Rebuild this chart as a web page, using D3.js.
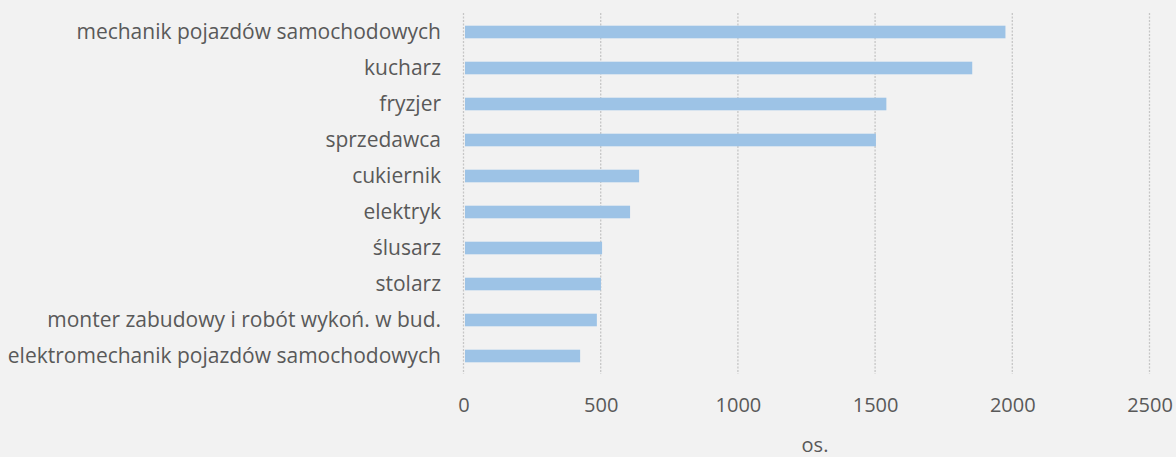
<!DOCTYPE html>
<html><head><meta charset="utf-8">
<script src="https://cdn.jsdelivr.net/npm/d3@7"></script>
<style>
html,body{margin:0;padding:0;background:#f2f2f2;}
svg{display:block;}
</style></head>
<body>
<script>
const categories = ["mechanik pojazdów samochodowych","kucharz","fryzjer","sprzedawca","cukiernik","elektryk","ślusarz","stolarz","monter zabudowy i robót wykoń. w bud.","elektromechanik pojazdów samochodowych"];
const values = [1975, 1854, 1541, 1503, 640, 607, 505, 501, 486, 425];
const ticks = [0, 500, 1000, 1500, 2000, 2500];
const axisTitle = "os.";

const W = 1176, H = 457;
const svg = d3.select("body").append("svg").attr("width", W).attr("height", H);
svg.append("rect").attr("width", W).attr("height", H).attr("fill", "#f2f2f2");

const x = d3.scaleLinear().domain([0, 2500]).range([463.5, 1149.5]);
const y = d3.scaleBand().domain(categories).range([14, 374]).paddingInner(0.65).paddingOuter(0.325);

const font = "'Open Sans', sans-serif";
// gridlines
svg.append("g").selectAll("line").data(ticks).join("line")
  .attr("x1", d => x(d)).attr("x2", d => x(d))
  .attr("y1", 13).attr("y2", 374)
  .attr("stroke", "#c6c6c6").attr("stroke-width", 1.3).attr("stroke-dasharray", "2,1.5");

// bars
svg.append("g").selectAll("rect").data(values).join("rect")
  .attr("x", x(0) + 1.5)
  .attr("y", (d, i) => y(categories[i]))
  .attr("width", d => x(d) - x(0) - 1.5)
  .attr("height", y.bandwidth())
  .attr("fill", "#9dc3e6");

// category labels
const yAxis = d3.axisLeft(y).tickSize(0).tickPadding(0);
const gy = svg.append("g").attr("transform", "translate(441,0.5)").call(yAxis);
gy.select(".domain").remove();
gy.selectAll("text").attr("fill", "#595959").style("font-family", font).style("font-size", "21px");

// x tick labels
const xAxis = d3.axisBottom(x).tickValues(ticks).tickSize(0).tickPadding(0).tickFormat(d3.format("d"));
const gx = svg.append("g").attr("transform", "translate(0,398)").call(xAxis);
gx.select(".domain").remove();
gx.selectAll("text").attr("fill", "#595959").style("font-family", font).style("font-size", "20px");

svg.append("text").attr("x", 815).attr("y", 452).attr("text-anchor", "middle")
  .attr("fill", "#595959").style("font-family", font).style("font-size", "20px").text(axisTitle);
</script>
</body></html>
